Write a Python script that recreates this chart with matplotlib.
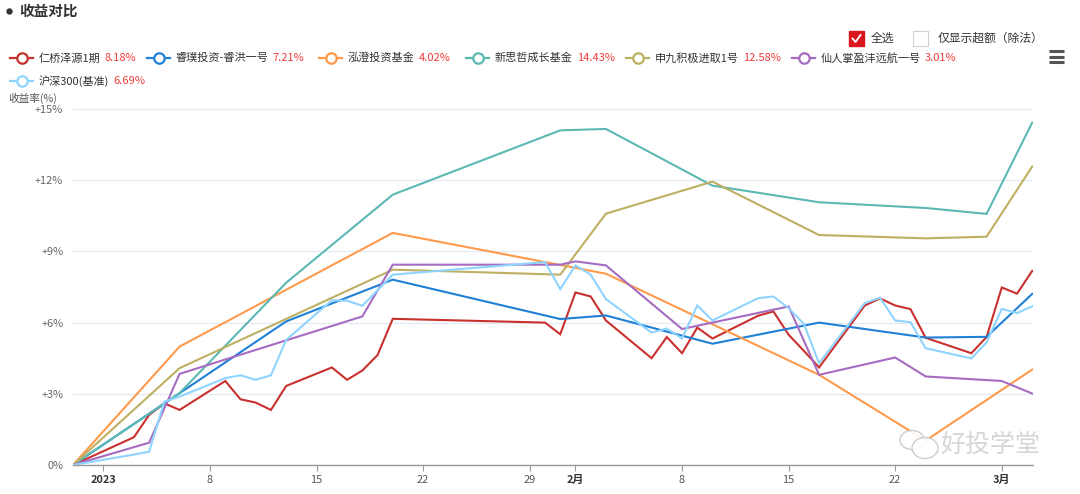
import pandas as pd
import matplotlib
matplotlib.use('Agg')
import matplotlib.pyplot as plt
from matplotlib.lines import Line2D
from matplotlib.patches import Rectangle, Ellipse

plt.rcParams['font.family'] = ['Noto Sans CJK SC', 'DejaVu Sans']

W, H = 1080, 494
START = pd.Timestamp('2022-12-30')

# trading days (shared by the daily series)
trade_days = ['2022-12-30',
              '2023-01-03', '2023-01-04', '2023-01-05', '2023-01-06',
              '2023-01-09', '2023-01-10', '2023-01-11', '2023-01-12', '2023-01-13',
              '2023-01-16', '2023-01-17', '2023-01-18', '2023-01-19', '2023-01-20',
              '2023-01-30', '2023-01-31', '2023-02-01', '2023-02-02', '2023-02-03',
              '2023-02-06', '2023-02-07', '2023-02-08', '2023-02-09', '2023-02-10',
              '2023-02-13', '2023-02-14', '2023-02-15', '2023-02-16', '2023-02-17',
              '2023-02-20', '2023-02-21', '2023-02-22', '2023-02-23', '2023-02-24',
              '2023-02-27', '2023-02-28', '2023-03-01', '2023-03-02', '2023-03-03']

renqiao = [0, 1.17, 2.11, 2.60, 2.32, 3.54, 2.77, 2.63, 2.32, 3.33,
           4.11, 3.59, 3.98, 4.63, 6.16, 6.00, 5.51, 7.27, 7.10, 6.09,
           4.50, 5.39, 4.71, 5.79, 5.33, 6.29, 6.47, 5.49, 4.81, 4.11,
           6.72, 7.02, 6.72, 6.57, 5.36, 4.71, 5.39, 7.48, 7.22, 8.18]

hs300 = [0, 0.44, 0.56, 2.67, 2.88, 3.66, 3.78, 3.59, 3.78, 5.27,
         6.94, 6.92, 6.71, 7.36, 8.02, 8.55, 7.41, 8.41, 8.02, 6.99,
         5.58, 5.75, 5.33, 6.72, 6.09, 7.03, 7.10, 6.61, 5.95, 4.29,
         6.82, 7.05, 6.09, 6.02, 4.92, 4.49, 5.16, 6.58, 6.40, 6.69]

ruipu_dates = ['2022-12-30', '2023-01-13', '2023-01-20', '2023-01-31', '2023-02-03',
               '2023-02-10', '2023-02-17', '2023-02-24', '2023-02-28', '2023-03-03']
ruipu = [0, 6.05, 7.81, 6.15, 6.30, 5.11, 6.00, 5.37, 5.40, 7.21]

hongcheng_dates = ['2022-12-30', '2023-01-06', '2023-01-20', '2023-02-03',
                   '2023-02-17', '2023-02-24', '2023-03-03']
hongcheng = [0, 4.99, 9.78, 8.06, 3.80, 1.03, 4.02]

xinsi_dates = ['2022-12-30', '2023-01-06', '2023-01-13', '2023-01-20', '2023-01-31',
               '2023-02-03', '2023-02-10', '2023-02-17', '2023-02-24', '2023-02-28',
               '2023-03-03']
xinsi = [0, 3.03, 7.68, 11.39, 14.10, 14.16, 11.77, 11.07, 10.83, 10.58, 14.43]

shenjiu_dates = ['2022-12-30', '2023-01-06', '2023-01-20', '2023-01-31', '2023-02-03',
                 '2023-02-10', '2023-02-17', '2023-02-24', '2023-02-28', '2023-03-03']
shenjiu = [0, 4.08, 8.23, 8.02, 10.59, 11.94, 9.69, 9.55, 9.62, 12.58]

xianrenzhang_dates = ['2022-12-30', '2023-01-04', '2023-01-06', '2023-01-18', '2023-01-20',
                      '2023-01-31', '2023-02-01', '2023-02-03', '2023-02-08', '2023-02-15',
                      '2023-02-17', '2023-02-22', '2023-02-24', '2023-03-01', '2023-03-03']
xianrenzhang = [0, 0.94, 3.84, 6.26, 8.44, 8.44, 8.58, 8.41, 5.73, 6.68,
                3.80, 4.53, 3.73, 3.54, 3.01]

names = ['仁桥泽源1期', '睿璞投资-睿洪一号', '泓澄投资基金', '新思哲成长基金',
         '申九积极进取1号', '仙人掌盈沣远航一号', '沪深300(基准)']
finals = ['8.18%', '7.21%', '4.02%', '14.43%', '12.58%', '3.01%', '6.69%']
colors = ['#c8312e', '#1f80d6', '#ff9a4c', '#5cb8b2', '#bdb062', '#a56cc1', '#8fd4ff']
series = [(trade_days, renqiao), (ruipu_dates, ruipu), (hongcheng_dates, hongcheng),
          (xinsi_dates, xinsi), (shenjiu_dates, shenjiu),
          (xianrenzhang_dates, xianrenzhang), (trade_days, hs300)]

tick_dates = ['2023-01-01', '2023-01-08', '2023-01-15', '2023-01-22', '2023-01-29',
              '2023-02-01', '2023-02-08', '2023-02-15', '2023-02-22', '2023-03-01']
xtick_labels = ['2023', '8', '15', '22', '29', '2月', '8', '15', '22', '3月']
ytick_vals = [0, 3, 6, 9, 12, 15]


def days(ds):
    return [(pd.Timestamp(d) - START).days for d in ds]


def fx(x):
    return x / W


def fy(y):
    return 1 - y / H


fig = plt.figure(figsize=(W / 100, H / 100), dpi=100)
ax = fig.add_axes([fx(73), fy(465), fx(1033) - fx(73), fy(109) - fy(465)])

for (ds, vals), c in zip(series, colors):
    ax.plot(days(ds), vals, color=c, lw=1.5, solid_joinstyle='miter')

ax.set_xlim(0, 63.05)
ax.set_ylim(0, 15)
ax.set_yticks(ytick_vals)
ax.set_yticklabels(['0%' if v == 0 else f'+{v}%' for v in ytick_vals],
                   fontsize=7.9, color='#666666')
ax.set_xticks(days(tick_dates))
ax.set_xticklabels(xtick_labels, fontsize=7.9, color='#555555')
for lab in ax.get_xticklabels():
    if lab.get_text() in ('2023', '2月', '3月'):
        lab.set_fontweight('bold')
        lab.set_color('#333333')
ax.tick_params(axis='y', length=0, pad=7)
ax.tick_params(axis='x', length=4, width=0.8, color='#999999', pad=3)
ax.grid(axis='y', color='#e6e8f2', lw=0.9)
ax.set_axisbelow(True)
for s in ['top', 'right', 'left']:
    ax.spines[s].set_visible(False)
ax.spines['bottom'].set_color('#999999')
ax.spines['bottom'].set_linewidth(1)

# title
fig.add_artist(Line2D([fx(8.5)], [fy(11)], marker='o', markersize=3.6, color='#333333',
                      transform=fig.transFigure))
fig.text(fx(19), fy(11), '收益对比', fontsize=10.5, fontweight='bold', color='#333333',
         va='center')

# legend (manual, two rows)
leg_x = [10, 147, 319, 466, 626, 792, 10]
leg_y = [58, 58, 58, 58, 58, 58, 81]
fig.canvas.draw()
renderer = fig.canvas.get_renderer()
for name, val, c, x0, y0 in zip(names, finals, colors, leg_x, leg_y):
    fig.add_artist(Line2D([fx(x0), fx(x0 + 23)], [fy(y0), fy(y0)], color=c, lw=1.6,
                          transform=fig.transFigure))
    fig.add_artist(Line2D([fx(x0 + 11.5)], [fy(y0)], marker='o', markersize=7.5,
                          markerfacecolor='white', markeredgecolor=c, markeredgewidth=1.6,
                          transform=fig.transFigure))
    t = fig.text(fx(x0 + 29), fy(y0), name, fontsize=8, color='#333333', va='center')
    bb = t.get_window_extent(renderer)
    fig.text(fx(bb.x1 + 4), fy(y0), val, fontsize=8, color='#f23a3a', va='center')

fig.text(fx(8), fy(98), '收益率(%)', fontsize=7.7, color='#555555', va='center')

# checkboxes
fig.add_artist(Rectangle((fx(849), fy(46)), fx(15), fy(31) - fy(46), facecolor='#d9171e',
                         edgecolor='#d9171e', transform=fig.transFigure))
fig.add_artist(Line2D([fx(852.5), fx(855.5), fx(860.5)], [fy(38.5), fy(42), fy(35)],
                      color='white', lw=1.3, transform=fig.transFigure))
fig.text(fx(871), fy(38.5), '全选', fontsize=8.5, color='#333333', va='center')
fig.add_artist(Rectangle((fx(913), fy(46)), fx(15), fy(31) - fy(46), facecolor='white',
                         edgecolor='#d0d0d0', lw=0.8, transform=fig.transFigure))
fig.text(fx(938), fy(38.5), '仅显示超额（除法）', fontsize=8.5, color='#333333', va='center')

# menu icon
for yy in (51.5, 57, 62.5):
    fig.add_artist(Line2D([fx(1049), fx(1064)], [fy(yy), fy(yy)], color='#555555', lw=2.2,
                          solid_capstyle='butt', transform=fig.transFigure))

# watermark
for cx, cy, w, h in ((912, 440, 24, 19), (925, 448, 26, 21)):
    fig.add_artist(Ellipse((fx(cx), fy(cy)), fx(w), fy(0) - fy(h), facecolor='white',
                           edgecolor='#c8c8c8', lw=1, alpha=0.9, transform=fig.transFigure))
fig.text(fx(940), fy(445), '好投学堂', fontsize=18, color='#d2d2d2', va='center', alpha=0.9)

fig.savefig('out.png', dpi=100)
